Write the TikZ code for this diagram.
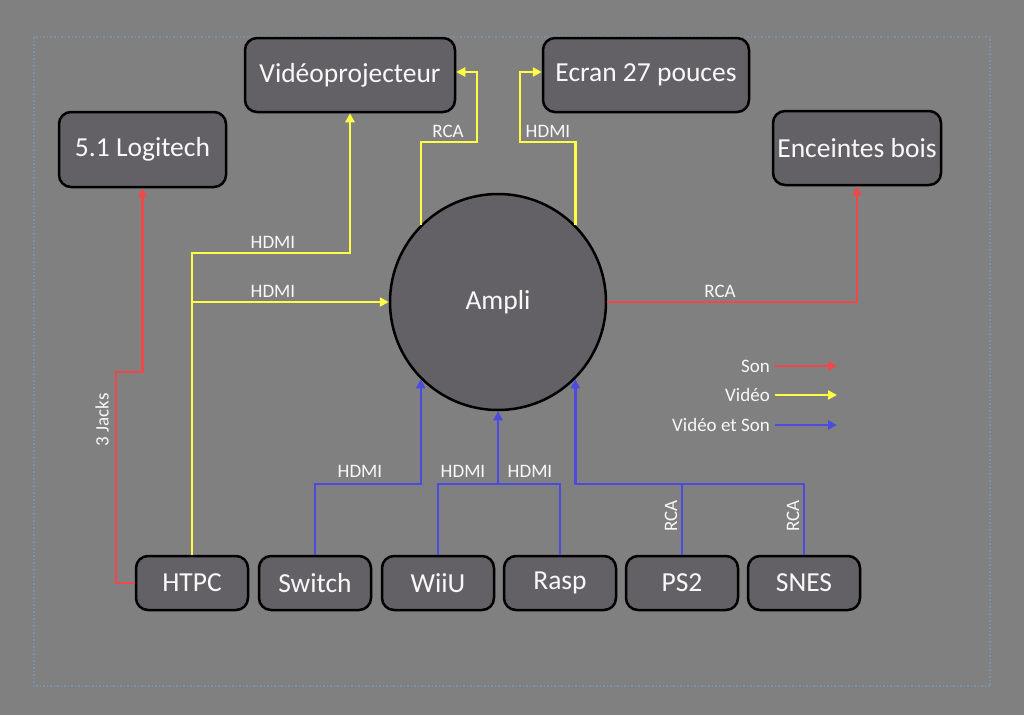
\documentclass[tikz,border=0pt]{standalone}
\usepackage{fontspec}
\setmainfont{Carlito}
\usetikzlibrary{arrows.meta,calc}
\definecolor{bg}{HTML}{808080}
\definecolor{boxfill}{HTML}{646166}
\definecolor{cred}{HTML}{F0484A}
\definecolor{cyel}{HTML}{FFFF44}
\definecolor{cblue}{HTML}{4B4BE0}
\definecolor{framec}{HTML}{7A92AC}
\definecolor{txt}{HTML}{F8F8F8}
\begin{document}
\begin{tikzpicture}[x=1pt,y=-1pt,
  box/.style={draw=black, line width=2.5pt, fill=boxfill, rounded corners=12pt, text=txt,
    font=\fontsize{27.5}{30}\selectfont, inner sep=0pt},
  bigbox/.style={box, minimum height=74pt},
  smallbox/.style={box, minimum width=112pt, minimum height=54pt},
  lbl/.style={text=txt, font=\fontsize{19}{21}\selectfont, inner sep=1pt},
  son/.style={draw=cred, line width=2.5pt},
  video/.style={draw=cyel, line width=2.5pt},
  av/.style={draw=cblue, line width=2.5pt},
  tip/.style={-{Triangle[length=9pt,width=9pt]}}
]
\fill[bg] (0,0) rectangle (1024,715);
\useasboundingbox (0,0) rectangle (1024,715);
\draw[framec, line width=1.5pt, dotted] (34,37) rectangle (990,686);

% nodes
\node[bigbox, minimum width=167pt, minimum height=75pt] (logi) at (142.5,149.5) {5.1 Logitech};
\node[bigbox, minimum width=210pt] (vp) at (350,75) {Vidéoprojecteur};
\node[bigbox, minimum width=206pt] (ecran) at (646,75) {Ecran 27 pouces};
\node[bigbox, minimum width=168pt] (enc) at (857,148) {Enceintes bois};
\node[draw=black, line width=2.5pt, fill=boxfill, circle, minimum size=216pt, inner sep=0pt,
  text=txt, font=\fontsize{27.5}{30}\selectfont] (ampli) at (498,302) {Ampli};

\node[smallbox] (htpc) at (192,583) {HTPC};
\node[smallbox] (switch) at (315,583) {Switch};
\node[smallbox] (wiiu) at (438,583) {WiiU};
\node[smallbox] (rasp) at (560,583) {Rasp};
\node[smallbox] (ps2) at (682,583) {PS2};
\node[smallbox] (snes) at (804,583) {SNES};

\coordinate (yb) at (0,484);

% red
\draw[son,tip] (htpc.west) -| (116,372) -| (logi.south);
\node[lbl, rotate=90] (l3j) at (102,420) {3 Jacks};
\draw[son,tip] (ampli.east) -| (enc.south);
\node[lbl] (lrca3) at (720,291) {RCA};

% yellow
\draw[video,tip] (htpc.north) |- (350,253) -- (vp.south);
\node[lbl] (lh1) at (273,242) {HDMI};
\draw[video,tip] (htpc.north |- ampli.west) -- (ampli.west);
\node[lbl] (lh2) at (273,291) {HDMI};
\draw[video,tip] (ampli.135) |- (477,142) |- ($(vp.east)+(0,-3)$);
\node[lbl] (lrca1) at (448,131) {RCA};
\draw[video,tip] (ampli.45) |- (520,142) |- ($(ecran.west)+(0,-3)$);
\node[lbl] (lh3) at (548,131) {HDMI};

% blue
\draw[av,tip] (switch.north) |- (ampli.225 |- yb) -- (ampli.225);
\node[lbl] (lh4) at (360,471) {HDMI};
\draw[av,tip] (wiiu.north) |- (ampli.south |- yb) -- (ampli.south);
\draw[av] (rasp.north) |- (ampli.south |- yb);
\node[lbl] (lh5) at (463,471) {HDMI};
\node[lbl] (lh6) at (530,471) {HDMI};
\draw[av,tip] (ps2.north) |- (ampli.-45 |- yb) -- (ampli.-45);
\draw[av] (snes.north) |- (ps2.north |- yb);
\node[lbl, rotate=90] (lrca4) at (671,516) {RCA};
\node[lbl, rotate=90] (lrca5) at (793,516) {RCA};

% legend
\node[lbl, anchor=east] (lson) at (771,366) {Son};
\node[lbl, anchor=east] (lvid) at (771,395) {Vidéo};
\node[lbl, anchor=east] (lvs) at (771,425) {Vidéo et Son};
\coordinate (eson) at (837,366);
\coordinate (evid) at (837,395);
\coordinate (evs) at (837,425);
\draw[son,tip] ($(lson.east)+(4,0)$) -- (eson);
\draw[video,tip] ($(lvid.east)+(4,0)$) -- (evid);
\draw[av,tip] ($(lvs.east)+(4,0)$) -- (evs);
\end{tikzpicture}
\end{document}
